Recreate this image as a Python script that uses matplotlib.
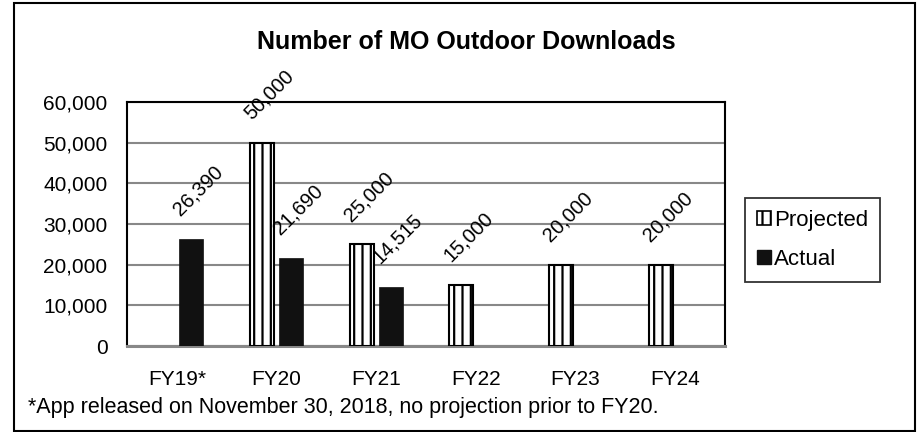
import numpy as np
import matplotlib
matplotlib.use("Agg")
import matplotlib.pyplot as plt
from matplotlib.patches import Rectangle, Patch

plt.rcParams['font.family'] = ['Liberation Sans', 'DejaVu Sans']
plt.rcParams['hatch.linewidth'] = 1.6

categories = ['FY19*', 'FY20', 'FY21', 'FY22', 'FY23', 'FY24']
projected = [np.nan, 50000, 25000, 15000, 20000, 20000]
actual = [26390, 21690, 14515, np.nan, np.nan, np.nan]
proj_labels = ['', '50,000', '25,000', '15,000', '20,000', '20,000']
act_labels = ['26,390', '21,690', '14,515', '', '', '']
yticks = [0, 10000, 20000, 30000, 40000, 50000, 60000]
ytick_labels = ['0', '10,000', '20,000', '30,000', '40,000', '50,000', '60,000']
title = 'Number of MO Outdoor Downloads'
footnote = '*App released on November 30, 2018, no projection prior to FY20.'

fig = plt.figure(figsize=(9.19, 4.32), dpi=100)
ax = fig.add_axes([127/919, 1 - 346/432, (725-127)/919, (346-102)/432])

x = np.arange(len(categories))
w = 0.24
off = 0.145
ax.bar(x - off, projected, width=w, color='white', edgecolor='black',
       hatch='||', linewidth=1.5, zorder=3)
ax.bar(x + off, actual, width=w, color='#111111', edgecolor='#111111',
       linewidth=0.5, zorder=3)

lab_fs = 14.5
for xi, v, lab in zip(x - off, projected, proj_labels):
    if lab:
        ax.annotate(lab, (xi, v), xytext=(5, 14), textcoords='offset points',
                    rotation=45, ha='center', va='bottom', fontsize=lab_fs,
                    annotation_clip=False, zorder=5)
for xi, v, lab in zip(x + off, actual, act_labels):
    if lab:
        ax.annotate(lab, (xi, v), xytext=(5, 14), textcoords='offset points',
                    rotation=45, ha='center', va='bottom', fontsize=lab_fs,
                    annotation_clip=False, zorder=5)

ax.set_xlim(-0.5, len(categories) - 0.5)
ax.set_ylim(0, 60000)
ax.set_yticks(yticks)
ax.set_yticklabels(ytick_labels, fontsize=15)
ax.set_xticks(x)
ax.set_xticklabels(categories, fontsize=15)
ax.tick_params(axis='y', length=0, pad=14)
ax.tick_params(axis='x', length=0, pad=17)
ax.yaxis.grid(True, color='#888888', linewidth=1.5, zorder=0)
ax.set_axisbelow(True)
for s in ['left', 'top', 'right']:
    ax.spines[s].set_color('black')
    ax.spines[s].set_linewidth(1.5)
ax.spines['bottom'].set_color('#888888')
ax.spines['bottom'].set_linewidth(2.2)

fig.text(466/919, 1 - 42/432, title, ha='center', va='center',
         fontsize=18, fontweight='bold')
fig.text(28/919, 1 - 407/432, footnote, ha='left', va='center', fontsize=15.5)

handles = [Patch(facecolor='white', edgecolor='black', hatch='||', linewidth=1.2),
           Patch(facecolor='#111111', edgecolor='#111111')]
leg = fig.legend(handles, ['Projected', 'Actual'], loc='upper left',
                 bbox_to_anchor=(745/919, 1 - 198/432), fontsize=16,
                 frameon=True, fancybox=False, handlelength=0.6, handleheight=0.6,
                 handletextpad=0.15, labelspacing=0.8, borderpad=0.55,
                 borderaxespad=0)
leg.get_frame().set_edgecolor('black')
leg.get_frame().set_linewidth(1.3)

border = Rectangle((14/919, 1 - 431/432), (915-14)/919, (431-3)/432,
                   transform=fig.transFigure, fill=False,
                   edgecolor='black', linewidth=1.5)
fig.patches.append(border)

fig.savefig('out.png', dpi=100)
